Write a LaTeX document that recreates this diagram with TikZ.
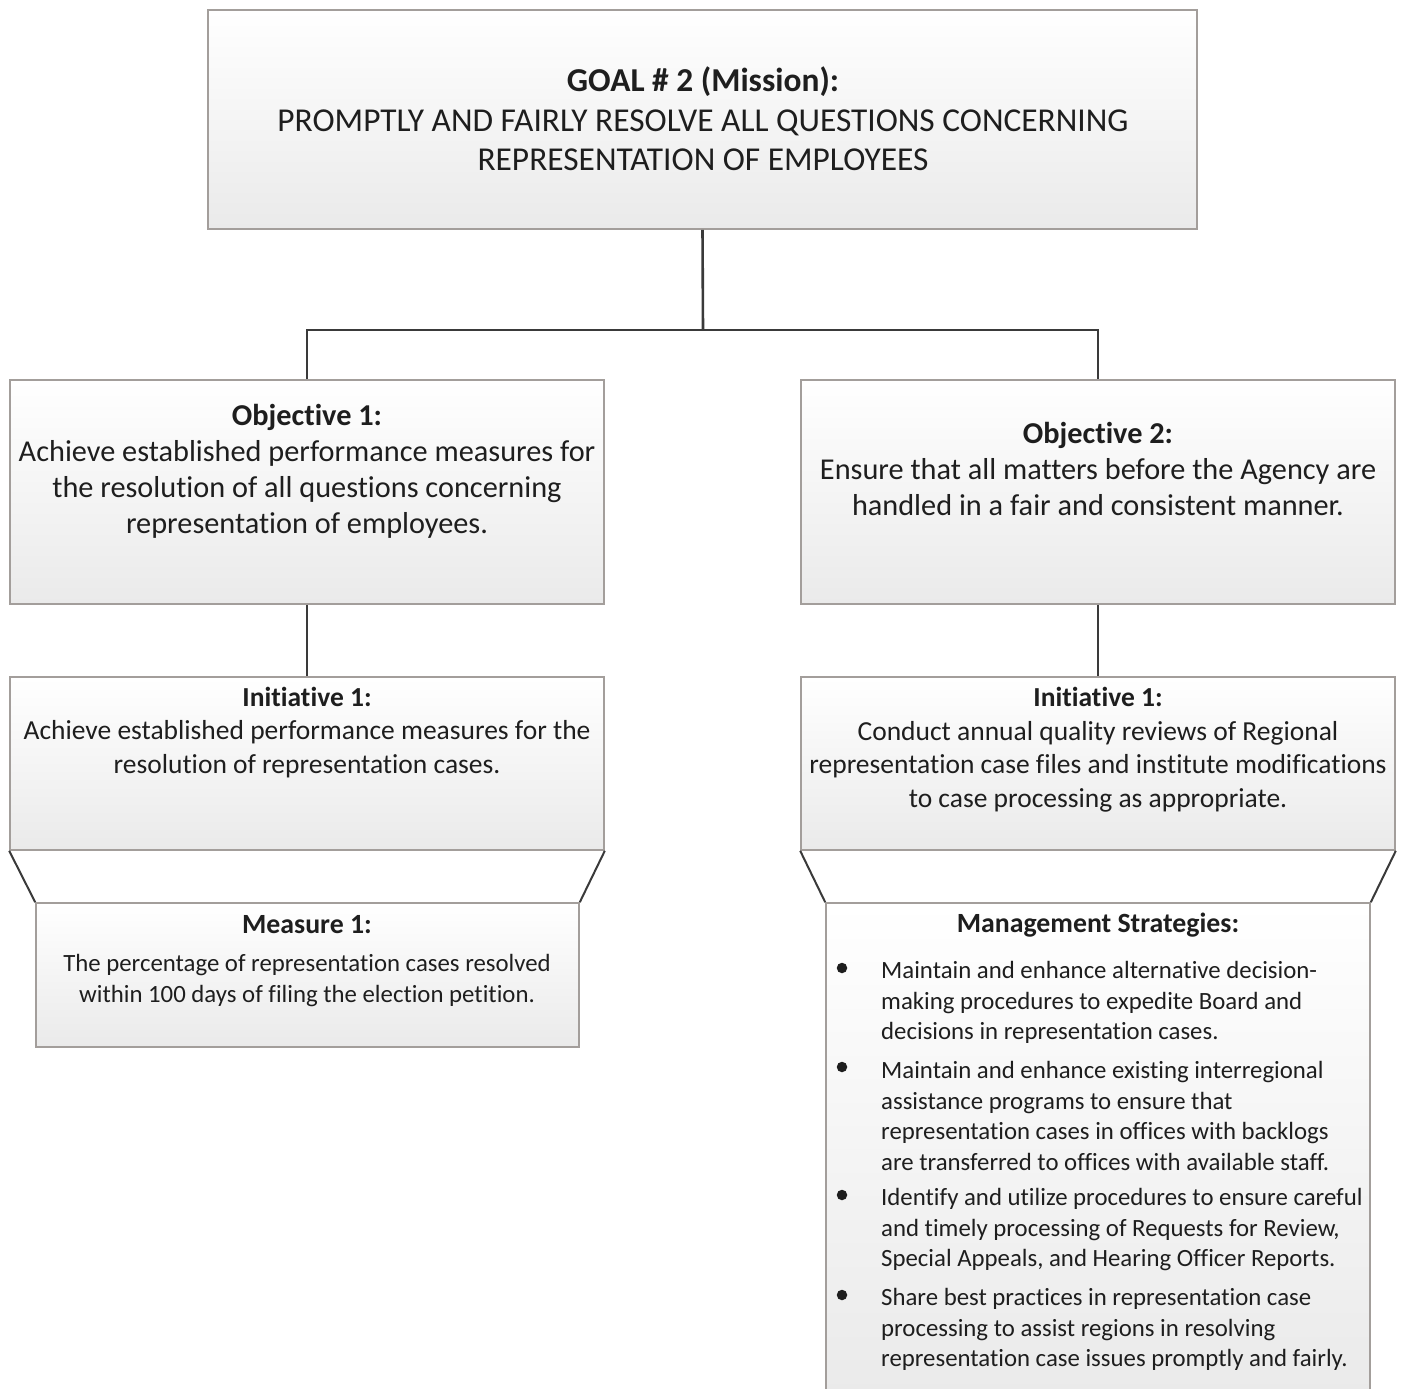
\documentclass[tikz,border=0pt]{standalone}
\usepackage{fontspec}
\setmainfont{Carlito}[Ligatures=NoCommon]
\usetikzlibrary{calc}
\definecolor{boxline}{HTML}{A39E9B}
\definecolor{conn}{HTML}{3A3A3A}
\definecolor{txt}{HTML}{1E1E1E}
\definecolor{boxbot}{HTML}{EAEAEA}
\tikzset{
  box/.style={draw=boxline, line width=1.6pt, rectangle, inner sep=0pt,
    top color=white, bottom color=boxbot},
  conline/.style={draw=conn, line width=2.6pt},
  sideline/.style={draw=conn, line width=2pt},
  txtnode/.style={text=txt, inner sep=0pt, align=center},
  goalfont/.style={font=\fontsize{33.4}{39.5}\selectfont},
  objfont/.style={font=\fontsize{30.3}{36}\selectfont},
  inifont/.style={font=\fontsize{27.5}{33.5}\selectfont},
  smallfont/.style={font=\fontsize{24.8}{30.5}\selectfont},
  smalltitle/.style={font=\fontsize{27.8}{30}\selectfont\bfseries},
  bullet/.style={circle, fill=txt, inner sep=0pt, minimum size=10.5pt},
}
\begin{document}
\begin{tikzpicture}[x=1pt,y=-1pt]
\useasboundingbox[fill=white] (0,0) rectangle (1403,1389);
% boxes
\node[box, minimum width=989pt, minimum height=219pt] (goal) at (702.5,119.5) {};
\node[box, minimum width=594pt, minimum height=224pt] (obj1) at (307,492) {};
\node[box, minimum width=594pt, minimum height=224pt] (obj2) at (1098,492) {};
\node[box, minimum width=594pt, minimum height=173pt] (ini1) at (307,763.5) {};
\node[box, minimum width=594pt, minimum height=173pt] (ini2) at (1098,763.5) {};
\node[box, minimum width=543pt, minimum height=144pt] (meas) at (307.5,975) {};
\node[box, minimum width=544pt, minimum height=492pt] (mgmt) at (1098,1149) {};
% connectors
\coordinate (split) at (703,330);
\draw[conline] (goal.south) -- (split);
\draw[conline] (obj1.north) |- (split) -| (obj2.north);
\draw[conline] (obj1.south) -- (ini1.north);
\draw[conline] (obj2.south) -- (ini2.north);
\draw[sideline] (ini1.south west) -- (meas.north west);
\draw[sideline] (ini1.south east) -- (meas.north east);
\draw[sideline] (ini2.south west) -- (mgmt.north west);
\draw[sideline] (ini2.south east) -- (mgmt.north east);
% texts
\node[txtnode, goalfont] (goalt) at (703,119) {\textbf{GOAL \# 2 (Mission):}\\PROMPTLY AND FAIRLY RESOLVE ALL QUESTIONS CONCERNING\\REPRESENTATION OF EMPLOYEES};
\node[txtnode, objfont] (obj1t) at (307,471) {\textbf{Objective 1:}\\Achieve established performance measures for\\the resolution of all questions concerning\\representation of employees.};
\node[txtnode, objfont] (obj2t) at (1098,469) {\textbf{Objective 2:}\\Ensure that all matters before the Agency are\\handled in a fair and consistent manner.};
\node[txtnode, inifont] (ini1t) at (307,732.5) {\textbf{Initiative 1:}\\Achieve established performance measures for the\\resolution of representation cases.};
\node[txtnode, inifont] (ini2t) at (1098,749.5) {\textbf{Initiative 1:}\\Conduct annual quality reviews of Regional\\representation case files and institute modifications\\to case processing as appropriate.};
\node[txtnode, smalltitle] (meast) at (307,925) {Measure 1:};
\node[txtnode, smallfont] (measb) at (307,980.5) {The percentage of representation cases resolved\\within 100 days of filing the election petition.};
\node[txtnode, smalltitle] (mgmtt) at (1098,925) {Management Strategies:};
\node[txtnode, smallfont, align=left, anchor=west] (s1) at (881,1002.5) {Maintain and enhance alternative decision-\\making procedures to expedite Board and\\decisions in representation cases.};
\node[txtnode, smallfont, align=left, anchor=west] (s2) at (881,1116) {Maintain and enhance existing interregional\\assistance programs to ensure that\\representation cases in offices with backlogs\\are transferred to offices with available staff.};
\node[txtnode, smallfont, align=left, anchor=west] (s3) at (881,1230) {Identify and utilize procedures to ensure careful\\and timely processing of Requests for Review,\\Special Appeals, and Hearing Officer Reports.};
\node[txtnode, smallfont, align=left, anchor=west] (s4) at (881,1329.5) {Share best practices in representation case\\processing to assist regions in resolving\\representation case issues promptly and fairly.};
\foreach \y/\n in {968/b1,1067/b2,1195/b3,1295/b4}{
  \node[bullet] (\n) at (842,\y) {};
}
\end{tikzpicture}
\end{document}
